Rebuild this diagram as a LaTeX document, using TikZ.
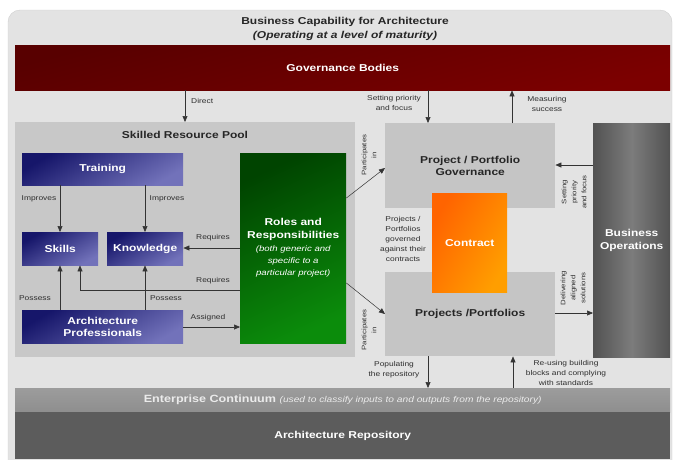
\documentclass[tikz,border=0pt]{standalone}
\usepackage{fontspec}
\setmainfont{Liberation Sans}[FakeStretch=1.2]
\usetikzlibrary{arrows.meta}
\definecolor{bgc}{HTML}{E3E3E3}
\definecolor{bgline}{HTML}{CFCFCF}
\definecolor{redD}{HTML}{580000}
\definecolor{redL}{HTML}{7C0000}
\definecolor{poolc}{HTML}{C8C8C8}
\definecolor{blueD}{HTML}{16166A}
\definecolor{blueL}{HTML}{7272BA}
\definecolor{greenD}{HTML}{004400}
\definecolor{greenL}{HTML}{0B8C0B}
\definecolor{ppgc}{HTML}{C5C5C5}
\definecolor{orD}{HTML}{FF6400}
\definecolor{orL}{HTML}{FF9E00}
\definecolor{opsD}{HTML}{525252}
\definecolor{opsL}{HTML}{7C7C7C}
\definecolor{ecc}{HTML}{8E8E8E}
\definecolor{ecl}{HTML}{9C9C9C}
\definecolor{repc}{HTML}{5C5C5C}
\definecolor{lblc}{HTML}{2E2E2E}
\newcommand{\hdfont}{\fontsize{10}{12.5}\selectfont\bfseries}
\newcommand{\lblfont}{\fontsize{7}{10}\selectfont}
\newcommand{\rotfont}{\fontsize{6.5}{10}\selectfont}
\newcommand{\rrit}{\fontsize{8}{11.5}\selectfont\mdseries\itshape}
\begin{document}
\begin{tikzpicture}[x=1pt,y=-1pt,
  box/.style={anchor=north west, inner sep=2pt, align=center, font=\hdfont, text=white},
  bluebox/.style={box, top color=blueD, bottom color=blueL, shading angle=30},
  graybox/.style={box, fill=ppgc, text=black!85},
  lbl/.style={font=\lblfont, text=lblc, align=center, inner sep=0pt},
  rlbl/.style={font=\rotfont, text=lblc, align=center, inner sep=0pt, rotate=90},
  arr/.style={draw=black!80, line width=0.5pt, -{Triangle[length=6pt,width=5pt]}}]
\useasboundingbox (0,0) rectangle (673,459);
% background panel
\fill[bgc, draw=bgline, rounded corners=12pt] (8,10) rectangle (672,475);
% title
\node[font=\hdfont, text=black!85] (title) at (345,22) {Business Capability for Architecture};
\node[font=\hdfont\itshape, text=black!85] (subtitle) at (345,36) {(Operating at a level of maturity)};
% governance bodies
\node[box, minimum width=655pt, minimum height=45pt, top color=redD, bottom color=redL, shading angle=15] (gov) at (15,45) {Governance Bodies};
% skilled resource pool
\node[box, minimum width=340pt, minimum height=235pt, fill=poolc] (pool) at (15,122) {};
\node[font=\hdfont, text=black!85] (pooltitle) at (185,135) {Skilled Resource Pool};
\node[bluebox, minimum width=161pt, minimum height=32pt] (training) at (22,153) {Training};
\node[bluebox, minimum width=76pt, minimum height=33pt] (skills) at (22,232) {Skills};
\node[bluebox, minimum width=76pt, minimum height=33pt] (knowledge) at (107,232) {Knowledge};
\node[bluebox, minimum width=161pt, minimum height=33pt] (archprof) at (22,310) {Architecture\\Professionals};
\node[box, minimum width=106pt, minimum height=190pt, top color=greenD, bottom color=greenL, shading angle=25] (roles) at (240,153)
  {Roles and\\Responsibilities\\{\rrit (both generic and}\\{\rrit specific to a}\\{\rrit particular project)}};
% projects side
\node[graybox, minimum width=170pt, minimum height=85pt] (ppg) at (385,123) {\raisebox{4pt}{\parbox{150pt}{\centering Project / Portfolio\\Governance}}};
\node[graybox, minimum width=170pt, minimum height=84pt] (projects) at (385,272) {Projects /Portfolios};
\node[box, minimum width=75pt, minimum height=99pt, top color=orD, bottom color=orL, shading angle=60] (contract) at (432,193) {Contract};
\node[box, minimum width=77pt, minimum height=234pt, left color=opsD, right color=opsD, middle color=opsL] (ops) at (593,123) {Business\\Operations};
% bottom bars
\node[box, minimum width=655pt, minimum height=24pt, top color=ecl, bottom color=ecc, text=white!92!black] (ec) at (15,388)
  {\fontsize{10.5}{12}\selectfont Enterprise Continuum {\rrit\fontsize{8.5}{10}\selectfont (used to classify inputs to and outputs from the repository)}};
\node[box, minimum width=655pt, minimum height=47pt, fill=repc] (repo) at (15,412) {Architecture Repository};
% coordinates for connector positions
\coordinate (xDir) at (185,0);
\coordinate (xSet) at (428,0);
\coordinate (xMeas) at (512,0);
\coordinate (xL) at (60,0);
\coordinate (xR) at (145,0);
\coordinate (xReq) at (80,0);
\coordinate (yReqK) at (0,248);
\coordinate (yReqS) at (0,290);
\coordinate (yAss) at (0,327);
\coordinate (yPU1) at (0,198);
\coordinate (yPU2) at (0,168);
\coordinate (yPL1) at (0,283);
\coordinate (yPL2) at (0,314);
\coordinate (yOps1) at (0,165);
\coordinate (yOps2) at (0,313);
\coordinate (xPop) at (428,0);
\coordinate (xReuse) at (513,0);
% connectors from governance
\draw[arr] (gov.south -| xDir) -- (pool.north -| xDir);
\node[lbl, anchor=west] (lDirect) at (191,101) {Direct};
\draw[arr] (gov.south -| xSet) -- (ppg.north -| xSet);
\node[lbl] (lSet) at (394,103) {Setting priority\\and focus};
\draw[arr] (ppg.north -| xMeas) -- (gov.south -| xMeas);
\node[lbl] (lMeas) at (547,104) {Measuring\\success};
% inside pool
\draw[arr] (training.south -| xL) -- (skills.north -| xL);
\node[lbl] (lImp1) at (39,199) {Improves};
\draw[arr] (training.south -| xR) -- (knowledge.north -| xR);
\node[lbl] (lImp2) at (167,199) {Improves};
\draw[arr] (roles.west |- yReqK) -- (knowledge.east |- yReqK);
\node[lbl] (lReq1) at (213,238) {Requires};
\draw[arr] (roles.west |- yReqS) -- (xReq |- yReqS) -- (skills.south -| xReq);
\node[lbl] (lReq2) at (213,281) {Requires};
\draw[arr] (archprof.north -| xL) -- (skills.south -| xL);
\node[lbl] (lPos1) at (35,298) {Possess};
\draw[arr] (archprof.north -| xR) -- (knowledge.south -| xR);
\node[lbl] (lPos2) at (166,298) {Possess};
\draw[arr] (archprof.east |- yAss) -- (roles.west |- yAss);
\node[lbl] (lAss) at (208,318) {Assigned};
% participates
\draw[arr] (roles.east |- yPU1) -- (ppg.west |- yPU2);
\node[rlbl] (lPart1) at (369,155) {Participates\\in};
\draw[arr] (roles.east |- yPL1) -- (projects.west |- yPL2);
\node[rlbl] (lPart2) at (369,330) {Participates\\in};
% contract label
\node[lbl] (lContr) at (403,239) {Projects /\\Portfolios\\governed\\against their\\contracts};
% business operations
\draw[arr] (ops.west |- yOps1) -- (ppg.east |- yOps1);
\node[rlbl] (lOps1) at (574,192) {Setting\\priority\\and focus};
\draw[arr] (projects.east |- yOps2) -- (ops.west |- yOps2);
\node[rlbl] (lOps2) at (573,288) {Delivering\\aligned\\solutions};
% repository
\draw[arr] (projects.south -| xPop) -- (ec.north -| xPop);
\node[lbl] (lPop) at (394,370) {Populating\\the repository};
\draw[arr] (ec.north -| xReuse) -- (projects.south -| xReuse);
\node[lbl] (lReuse) at (566,373) {Re-using building\\blocks and complying\\with standards};
\end{tikzpicture}
\end{document}
